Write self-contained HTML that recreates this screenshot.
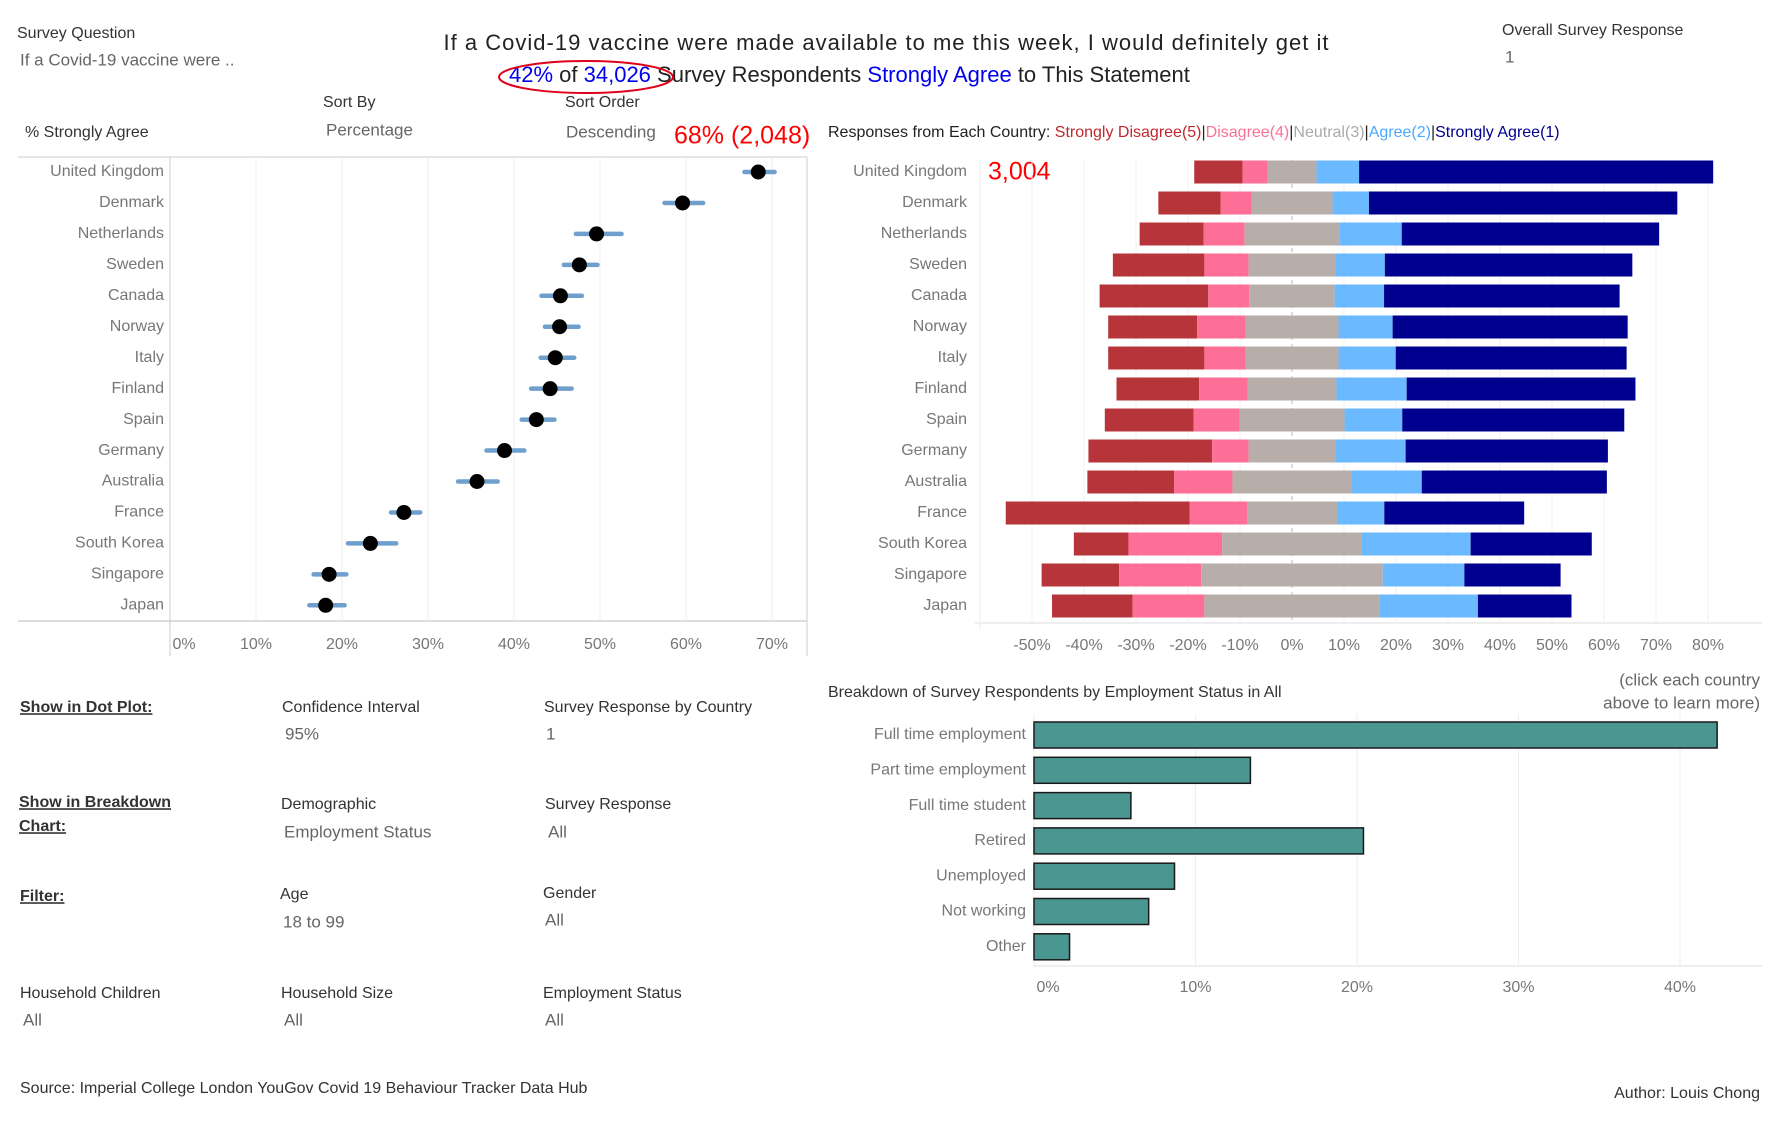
<!DOCTYPE html>
<html><head><meta charset="utf-8"><style>
html,body{margin:0;padding:0;background:#fff;}
svg{display:block;font-family:"Liberation Sans",sans-serif;}
.lbl{fill:#333;font-size:16px;}
.val{fill:#666;font-size:17px;}
.ax{fill:#777;font-size:16px;}
.cl{fill:#666;font-size:17px;}
</style></head><body>
<svg id="s" width="1768" height="1125" viewBox="0 0 1768 1125">
<g dominant-baseline="middle">
<text x="17" y="34" class="lbl">Survey Question</text>
<text x="20" y="61" class="val">If a Covid-19 vaccine were ..</text>
<text x="886" y="44" text-anchor="middle" font-size="22" fill="#222" textLength="885">If a Covid-19 vaccine were made available to me this week, I would definitely get it</text>
<text x="509" y="76" font-size="22" fill="#222"><tspan fill="#0000ee">42%</tspan> of <tspan fill="#0000ee">34,026</tspan> Survey Respondents <tspan fill="#0000ee">Strongly Agree</tspan> to This Statement</text>
<ellipse cx="586" cy="77" rx="87" ry="16" fill="none" stroke="#e0001a" stroke-width="2"/>
<text x="1502" y="31" class="lbl">Overall Survey Response</text>
<text x="1505" y="58" class="val">1</text>
<text x="323" y="103" class="lbl">Sort By</text>
<text x="326" y="131" class="val">Percentage</text>
<text x="565" y="103" class="lbl">Sort Order</text>
<text x="566" y="133" class="val">Descending</text>
<text x="674" y="137" font-size="25" fill="#f00">68% (2,048)</text>
<text x="25" y="133" class="lbl">% Strongly Agree</text>
<text x="828" y="133" font-size="16" fill="#222">Responses from Each Country: <tspan fill="#c0282e">Strongly Disagree(5)</tspan>|<tspan fill="#fd6f96">Disagree(4)</tspan>|<tspan fill="#aaa">Neutral(3)</tspan>|<tspan fill="#4aa8ff">Agree(2)</tspan>|<tspan fill="#00008f">Strongly Agree(1)</tspan></text>
<text x="988" y="173" font-size="25" fill="#f00">3,004</text>

<text x="20" y="708" class="lbl" font-weight="bold" text-decoration="underline">Show in Dot Plot:</text>
<text x="282" y="708" class="lbl">Confidence Interval</text>
<text x="285" y="735" class="val">95%</text>
<text x="544" y="708" class="lbl">Survey Response by Country</text>
<text x="546" y="735" class="val">1</text>
<text x="19" y="803" class="lbl" font-weight="bold" text-decoration="underline">Show in Breakdown</text>
<text x="19" y="827" class="lbl" font-weight="bold" text-decoration="underline">Chart:</text>
<text x="281" y="805" class="lbl">Demographic</text>
<text x="284" y="833" class="val">Employment Status</text>
<text x="545" y="805" class="lbl">Survey Response</text>
<text x="548" y="833" class="val">All</text>
<text x="20" y="897" class="lbl" font-weight="bold" text-decoration="underline">Filter:</text>
<text x="280" y="895" class="lbl">Age</text>
<text x="283" y="923" class="val">18 to 99</text>
<text x="543" y="894" class="lbl">Gender</text>
<text x="545" y="921" class="val">All</text>
<text x="20" y="994" class="lbl">Household Children</text>
<text x="23" y="1021" class="val">All</text>
<text x="281" y="994" class="lbl">Household Size</text>
<text x="284" y="1021" class="val">All</text>
<text x="543" y="994" class="lbl">Employment Status</text>
<text x="545" y="1021" class="val">All</text>
<text x="20" y="1089" class="lbl">Source: Imperial College London YouGov Covid 19 Behaviour Tracker Data Hub</text>
<text x="1760" y="1094" text-anchor="end" class="lbl">Author: Louis Chong</text>
<text x="828" y="693" class="lbl">Breakdown of Survey Respondents by Employment Status in All</text>
<text x="1760" y="681" text-anchor="end" class="cl" font-size="16">(click each country</text>
<text x="1760" y="704" text-anchor="end" class="cl" font-size="16">above to learn more)</text>
</g>
<g id="dot"></g><g id="div"></g><g id="emp"></g>
</svg>
<script>
const countries=["United Kingdom","Denmark","Netherlands","Sweden","Canada","Norway","Italy","Finland","Spain","Germany","Australia","France","South Korea","Singapore","Japan"];
const pctAgree=[68.4,59.6,49.6,47.6,45.4,45.3,44.8,44.2,42.6,38.9,35.7,27.2,23.3,18.5,18.1];
const ciLow=[66.8,57.5,47.2,45.8,43.2,43.6,43.1,42.0,40.9,36.8,33.5,25.7,20.7,16.7,16.2];
const ciHigh=[70.3,62.0,52.5,49.7,47.9,47.5,47.0,46.7,44.7,41.2,38.1,29.1,26.3,20.5,20.3];
const dotTicks=[0,10,20,30,40,50,60,70];
const strongDis=[9.3,12.0,12.3,17.6,20.9,17.1,18.5,15.9,17.1,23.8,16.7,35.4,10.5,14.9,15.5];
const disagree=[4.8,5.9,7.9,8.5,7.9,9.3,7.9,9.3,8.8,7.0,11.2,11.0,18.0,15.8,13.8];
const neutral=[9.4,15.6,18.2,16.7,16.4,17.9,17.9,17.1,20.2,16.7,22.9,17.3,26.9,34.9,33.7];
const agree=[8.2,7.0,12.0,9.5,9.5,10.4,11.0,13.5,11.1,13.5,13.5,9.1,20.9,15.7,18.9];
const strongAgree=[68.1,59.3,49.5,47.6,45.3,45.2,44.4,44.0,42.7,38.9,35.6,26.9,23.3,18.5,18.0];
const divTicks=[-50,-40,-30,-20,-10,0,10,20,30,40,50,60,70,80];
const empCats=["Full time employment","Part time employment","Full time student","Retired","Unemployed","Not working","Other"];
const empVals=[42.3,13.4,6.0,20.4,8.7,7.1,2.2];
const empTicks=[0,10,20,30,40];

const NS="http://www.w3.org/2000/svg";
function mk(p,tag,at,txt){const e=document.createElementNS(NS,tag);for(const k in at)e.setAttribute(k,at[k]);if(txt!==undefined)e.textContent=txt;p.appendChild(e);return e;}

// Dot plot
const D=document.getElementById('dot');
const dx=v=>170+v*8.6, dy=i=>172+i*30.95;
mk(D,'line',{x1:18,y1:157,x2:807,y2:157,stroke:'#ccc'});
mk(D,'line',{x1:18,y1:621,x2:807,y2:621,stroke:'#bbb'});
mk(D,'line',{x1:170,y1:157,x2:170,y2:656,stroke:'#ccc'});
mk(D,'line',{x1:807,y1:157,x2:807,y2:656,stroke:'#ccc'});
dotTicks.forEach(t=>{
  if(t>0){const g=mk(D,'line',{x1:dx(t),y1:157,x2:dx(t),y2:621,stroke:'#eee'});
  
  }
  const l=mk(D,'text',{x:dx(t)+(t==0?14:0),y:645,'text-anchor':'middle','dominant-baseline':'middle',class:'ax'},t+'%');
  
  
});
countries.forEach((c,i)=>{
  const l=mk(D,'text',{x:164,y:dy(i),'text-anchor':'end','dominant-baseline':'middle',class:'ax'},c);
  
  
  const ci=mk(D,'line',{x1:dx(ciLow[i]),y1:dy(i),x2:dx(ciHigh[i]),y2:dy(i),stroke:'#6f9fcc','stroke-width':4.5,'stroke-linecap':'round'});
  
  
  const p=mk(D,'circle',{cx:dx(pctAgree[i]),cy:dy(i),r:7.5,fill:'#000'});
  
  
});

// Diverging stacked bar
const V=document.getElementById('div');
const vx=v=>1292+v*5.2, vy=i=>172+i*31.0;
mk(V,'line',{x1:975,y1:623,x2:1762,y2:623,stroke:'#eee','stroke-width':2});
divTicks.forEach(t=>{
  const g=mk(V,'line',{x1:vx(t),y1:160,x2:vx(t),y2:623,stroke:t==0?'#bbb':'#f2f2f2','stroke-dasharray':t==0?'4,4':'none'});
  
  
  const l=mk(V,'text',{x:vx(t),y:646,'text-anchor':'middle','dominant-baseline':'middle',class:'ax'},t+'%');
  
  
});
mk(V,'line',{x1:vx(-60),y1:160,x2:vx(-60),y2:630,stroke:'#eee'});
const cols=['#b7353a','#fd6f96','#b8aea9','#6bbaff','#00008f'];
const names=['bar-strongly-disagree','bar-disagree','bar-neutral','bar-agree','bar-strongly-agree'];
countries.forEach((c,i)=>{
  const l=mk(V,'text',{x:967,y:vy(i),'text-anchor':'end','dominant-baseline':'middle',class:'ax'},c);
  
  
  const vals=[strongDis[i],disagree[i],neutral[i],agree[i],strongAgree[i]];
  let x=-(strongDis[i]+disagree[i]+neutral[i]/2);
  vals.forEach((v,k)=>{
    const r=mk(V,'rect',{x:vx(x),y:vy(i)-11.5,width:v*5.2,height:23,fill:cols[k]});
    
    
    x+=v;
  });
});

// Employment bars
const E=document.getElementById('emp');
const ex=v=>1034+v*16.15, ey=i=>735+i*35.3;
mk(E,'line',{x1:1034,y1:714,x2:1034,y2:968,stroke:'#eee'});
mk(E,'line',{x1:1034,y1:966,x2:1762,y2:966,stroke:'#eee','stroke-width':2});
empTicks.forEach(t=>{
  const g=mk(E,'line',{x1:ex(t),y1:714,x2:ex(t),y2:966,stroke:'#eee'});
  
  
  const l=mk(E,'text',{x:ex(t)+(t==0?14:0),y:988,'text-anchor':'middle','dominant-baseline':'middle',class:'ax'},t+'%');
  
  
});
empCats.forEach((c,i)=>{
  const l=mk(E,'text',{x:1026,y:ey(i),'text-anchor':'end','dominant-baseline':'middle',class:'ax'},c);
  
  
  const r=mk(E,'rect',{x:ex(0),y:ey(i)-13,width:empVals[i]*16.15,height:26,fill:'#4a9690',stroke:'#1a1a1a','stroke-width':1.5});
  
  
});
</script>
</body></html>
